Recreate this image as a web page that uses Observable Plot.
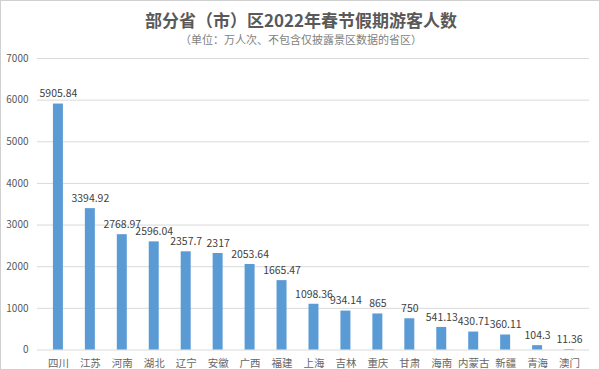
<!DOCTYPE html>
<html><head><meta charset="utf-8">
<script src="https://cdn.jsdelivr.net/npm/d3@7"></script>
<script src="https://cdn.jsdelivr.net/npm/@observablehq/plot@0.6"></script>
<style>
html,body{margin:0;padding:0;background:#fff;}
#wrap{width:598px;height:368px;border:1px solid #d0d0d0;position:relative;overflow:hidden;font-family:"Noto Sans CJK SC","Noto Sans",sans-serif;}
#title{position:absolute;top:8px;left:0;width:600px;text-align:center;font-size:17px;font-weight:bold;color:#595959;line-height:22px;}
#sub{position:absolute;top:31px;left:0;width:600px;text-align:center;font-size:11px;color:#7f7f7f;line-height:14px;}
#chart{position:absolute;top:47px;left:-1px;}
</style></head>
<body>
<div id="wrap">
<div id="title">部分省（市）区2022年春节假期游客人数</div>
<div id="sub">（单位：万人次、不包含仅披露景区数据的省区）</div>
<div id="chart"></div>
</div>
<script>
const provinces = ["四川","江苏","河南","湖北","辽宁","安徽","广西","福建","上海","吉林","重庆","甘肃","海南","内蒙古","新疆","青海","澳门"];
const visitors = [5905.84,3394.92,2768.97,2596.04,2357.7,2317,2053.64,1665.47,1098.36,934.14,865,750,541.13,430.71,360.11,104.3,11.36];
const labels = ["5905.84","3394.92","2768.97","2596.04","2357.7","2317","2053.64","1665.47","1098.36","934.14","865","750","541.13","430.71","360.11","104.3","11.36"];
const yTicks = [0,1000,2000,3000,4000,5000,6000,7000];

const data = provinces.map((p,i)=>({p, v: visitors[i], l: labels[i]}));

const chart = Plot.plot({
  width: 600,
  height: 323,
  marginTop: 10,
  marginBottom: 21,
  marginLeft: 37,
  marginRight: 10,
  style: {fontFamily: '"Noto Sans CJK SC","Noto Sans",sans-serif', fontSize: "10px", color: "#595959", background: "transparent"},
  x: {domain: provinces, paddingInner: 0.7, paddingOuter: 0.35, label: null},
  y: {domain: [0,7000], ticks: yTicks, label: null},
  marks: [
    Plot.gridY(yTicks, {stroke: "#d9d9d9", strokeOpacity: 1, strokeWidth: 1}),
    Plot.barY(data, {x: "p", y: "v", fill: "#5b9bd5"}),
    Plot.text(data, {x: "p", y: "v", text: "l", dy: -10, fill: "#404040", fontSize: 10.5}),
    Plot.axisX({tickSize: 0, tickPadding: 10, fontSize: 10.5, color:"#666"}),
    Plot.axisY({ticks: yTicks, tickSize: 0, tickPadding: 9, tickFormat: d => String(d)})
  ]
});
document.getElementById("chart").appendChild(chart);
</script>
</body></html>
